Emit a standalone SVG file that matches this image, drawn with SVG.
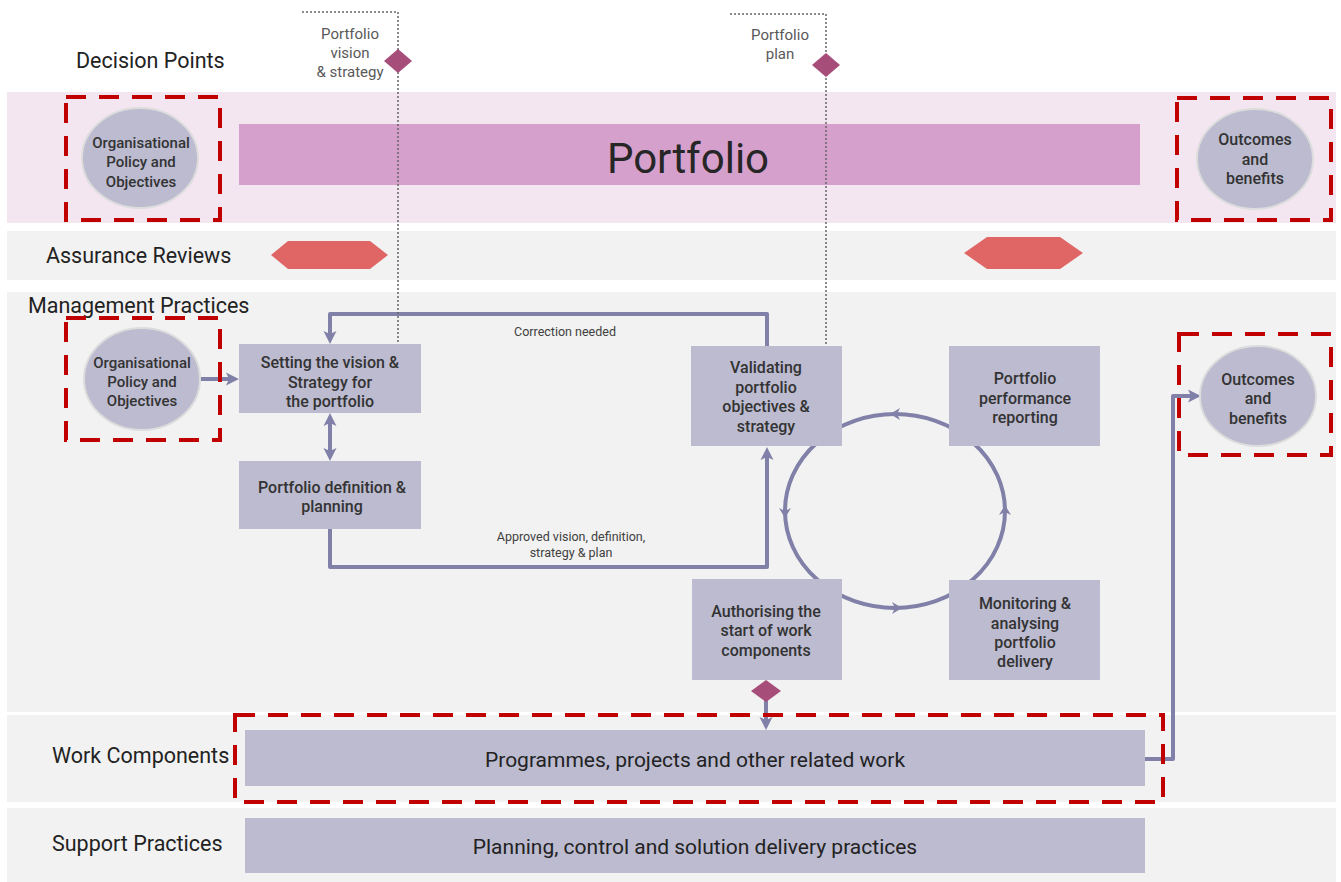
<svg xmlns="http://www.w3.org/2000/svg" width="1341" height="882" viewBox="0 0 1341 882">
<style>
.band{fill:#f2f2f2}
.pband{fill:#f3e6f0}
.box{fill:#bcbbd0}
.circ{fill:#bcbbd0;stroke:#dcdcdc;stroke-width:2}
.red{fill:none;stroke:#c00000;stroke-width:4;stroke-dasharray:20 13}
.conn{fill:none;stroke:#8080a8;stroke-width:4;stroke-linejoin:round}
.dot{fill:none;stroke:#666;stroke-width:1.5;stroke-dasharray:2 2}
.dia{fill:#a64d79}
.hex{fill:#e06666}
.head{fill:#8080a8}
text{font-family:Roboto,"Liberation Sans",sans-serif;fill:#262626}
.lbl{font-size:21.5px;font-weight:400;fill:#222}
.bt{font-size:16px;font-weight:500;text-anchor:middle;fill:#333}
.ct{font-size:15px;font-weight:500;text-anchor:middle;fill:#333}
.ot{font-size:16px;font-weight:500;text-anchor:middle;fill:#333}
.sm{font-size:15px;fill:#595959;text-anchor:middle}
.cl{font-size:12.5px;fill:#404040;text-anchor:middle}
.wide{font-size:21px;font-weight:400;text-anchor:middle;fill:#222}
</style>
<defs>
<marker id="arr" markerWidth="14" markerHeight="14" refX="5" refY="7" orient="auto-start-reverse" markerUnits="userSpaceOnUse">
<path d="M0,0.5 L13,7 L0,13.5 L3,7 z" fill="#8080a8"/>
</marker>
</defs>

<g id="bands">
<rect class="pband" x="7" y="92" width="1329" height="131"/>
<rect class="band" x="7" y="231" width="1329" height="49"/>
<rect class="band" x="7" y="292" width="1329" height="420"/>
<rect class="band" x="7" y="715" width="1329" height="87"/>
<rect class="band" x="7" y="808" width="1329" height="74"/>
</g>

<g id="row-labels">
<text class="lbl" x="76" y="68">Decision Points</text>
<text class="lbl" x="46" y="263">Assurance Reviews</text>
<text class="lbl" x="28" y="313">Management Practices</text>
<text class="lbl" x="52" y="763">Work Components</text>
<text class="lbl" x="52" y="851">Support Practices</text>
</g>

<g id="portfolio-bar">
<rect x="239" y="124" width="901" height="61" fill="#d6a0cd"/>
<text x="688" y="173" font-size="42" text-anchor="middle">Portfolio</text>
</g>

<g id="assurance-1"><polygon class="hex" points="271,255 288,241 370,241 388,255 370,269 288,269"/></g>
<g id="assurance-2"><polygon class="hex" points="964,253 987,237 1060,237 1083,253 1060,269 987,269"/></g>

<g id="cycle">
<ellipse cx="895" cy="511" rx="110" ry="97" fill="none" stroke="#8080a8" stroke-width="4"/>
<path class="head" d="M890,414 L900,408 L897,414 L900,420 Z"/>
<path class="head" d="M785,518 L779,508 L785,511 L791,508 Z"/>
<path class="head" d="M902,608 L892,602 L895,608 L892,614 Z"/>
<path class="head" d="M1005,505 L999,515 L1005,512 L1011,515 Z"/>
</g>

<g id="connectors">
<path class="conn" d="M201,379 L231,379" marker-end="url(#arr)"/>
<path class="conn" d="M330,421 L330,453" marker-start="url(#arr)" marker-end="url(#arr)"/>
<path class="conn" d="M330,529 L330,567 L767,567 L767,455" marker-end="url(#arr)"/>
<path class="conn" d="M767,346 L767,314 L330,314 L330,336" marker-end="url(#arr)"/>
<path class="conn" d="M766,700 L766,722" marker-end="url(#arr)"/>
<path class="conn" d="M1145,759 L1173,759 L1173,396 L1193,396" marker-end="url(#arr)"/>
<path class="dot" d="M302,12 L398,12 L398,344"/>
<path class="dot" d="M730,14 L826,14 L826,346"/>
<text class="cl" x="565" y="336">Correction needed</text>
<text class="cl" x="571" y="541">Approved vision, definition,</text>
<text class="cl" x="571" y="557">strategy &amp; plan</text>
</g>

<g id="org-policy-top">
<ellipse class="circ" cx="140" cy="158" rx="58" ry="50"/>
<text class="ct" x="141" y="148">Organisational</text>
<text class="ct" x="141" y="167">Policy and</text>
<text class="ct" x="141" y="187">Objectives</text>
<rect class="red" x="66" y="97" width="154" height="123"/>
</g>

<g id="outcomes-top">
<ellipse class="circ" cx="1255" cy="159" rx="58" ry="50"/>
<text class="ot" x="1255" y="145">Outcomes</text>
<text class="ot" x="1255" y="165">and</text>
<text class="ot" x="1255" y="184">benefits</text>
<rect class="red" x="1177" y="98" width="154" height="122"/>
</g>

<g id="decision-vision">
<polygon class="dia" points="398,49 412,61 398,73 384,61"/>
<text class="sm" x="350" y="39">Portfolio</text>
<text class="sm" x="350" y="58">vision</text>
<text class="sm" x="350" y="77">&amp; strategy</text>
</g>

<g id="decision-plan">
<polygon class="dia" points="826,53 840,65 826,77 812,65"/>
<text class="sm" x="780" y="40">Portfolio</text>
<text class="sm" x="780" y="59">plan</text>
</g>

<g id="org-policy-mgmt">
<ellipse class="circ" cx="142" cy="379" rx="58" ry="51"/>
<text class="ct" x="142" y="368">Organisational</text>
<text class="ct" x="142" y="387">Policy and</text>
<text class="ct" x="142" y="406">Objectives</text>
<rect class="red" x="66" y="318" width="154" height="122"/>
</g>

<g id="setting-vision">
<rect class="box" x="239" y="344" width="182" height="69"/>
<text class="bt" x="330" y="368">Setting the vision &amp;</text>
<text class="bt" x="330" y="388">Strategy for</text>
<text class="bt" x="330" y="407">the portfolio</text>
</g>

<g id="portfolio-definition">
<rect class="box" x="239" y="461" width="182" height="68"/>
<text class="bt" x="332" y="493">Portfolio definition &amp;</text>
<text class="bt" x="332" y="512">planning</text>
</g>

<g id="validating">
<rect class="box" x="691" y="346" width="151" height="100"/>
<text class="bt" x="766" y="373">Validating</text>
<text class="bt" x="766" y="393">portfolio</text>
<text class="bt" x="766" y="412">objectives &amp;</text>
<text class="bt" x="766" y="432">strategy</text>
</g>

<g id="performance-reporting">
<rect class="box" x="949" y="346" width="151" height="100"/>
<text class="bt" x="1025" y="384">Portfolio</text>
<text class="bt" x="1025" y="404">performance</text>
<text class="bt" x="1025" y="423">reporting</text>
</g>

<g id="monitoring">
<rect class="box" x="949" y="580" width="151" height="100"/>
<text class="bt" x="1025" y="609">Monitoring &amp;</text>
<text class="bt" x="1025" y="629">analysing</text>
<text class="bt" x="1025" y="648">portfolio</text>
<text class="bt" x="1025" y="667">delivery</text>
</g>

<g id="authorising">
<rect class="box" x="692" y="579" width="150" height="101"/>
<text class="bt" x="766" y="617">Authorising the</text>
<text class="bt" x="766" y="636">start of work</text>
<text class="bt" x="766" y="656">components</text>
<polygon class="dia" points="766,680 781,691 766,702 751,691"/>
</g>

<g id="outcomes-mgmt">
<ellipse class="circ" cx="1258" cy="396" rx="58" ry="50"/>
<text class="ot" x="1258" y="385">Outcomes</text>
<text class="ot" x="1258" y="404">and</text>
<text class="ot" x="1258" y="424">benefits</text>
<rect class="red" x="1179" y="334" width="152" height="121"/>
</g>

<g id="work-components">
<rect class="box" x="245" y="730" width="900" height="56"/>
<text class="wide" x="695" y="767">Programmes, projects and other related work</text>
<rect class="red" x="235" y="715" width="928" height="87"/>
</g>

<g id="support-practices">
<rect class="box" x="245" y="818" width="900" height="55"/>
<text class="wide" x="695" y="854">Planning, control and solution delivery practices</text>
</g>
</svg>
